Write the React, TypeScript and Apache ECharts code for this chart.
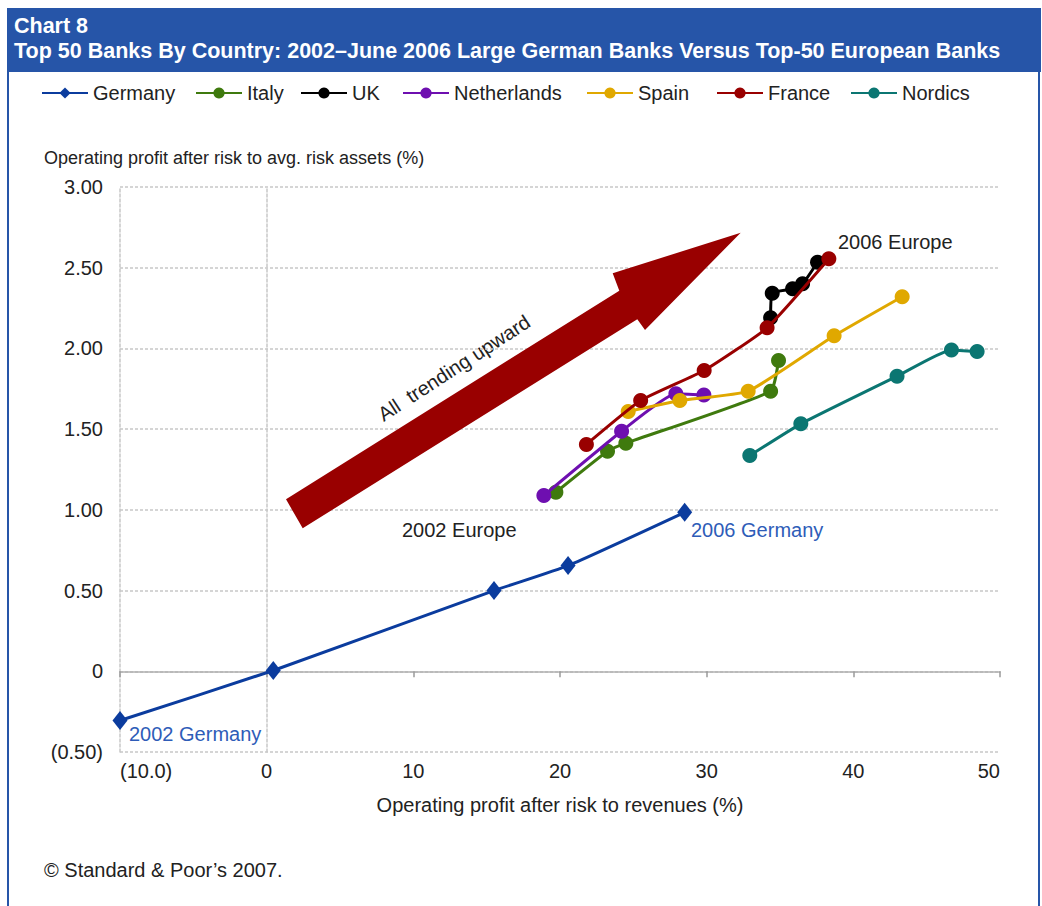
import React, { useEffect, useRef } from "react";
import * as echarts from "echarts";

const FONT = "'Liberation Sans', Arial, Helvetica, sans-serif";

const seriesNames = ["Germany", "Italy", "UK", "Netherlands", "Spain", "France", "Nordics"];
const seriesColors = ["#0b3c9e", "#3f7a0e", "#000000", "#6e0fb0", "#e0a800", "#990000", "#0b7672"];

const germanyX = [-10, 0.45, 15.5, 20.55, 28.5];
const germanyY = [-0.305, 0.005, 0.5, 0.655, 0.985];
const italyX = [19.72, 23.24, 24.49, 34.36, 34.9];
const italyY = [1.109, 1.363, 1.413, 1.735, 1.925];
const ukX = [34.36, 34.47, 35.86, 36.54, 37.56];
const ukY = [2.19, 2.342, 2.369, 2.4, 2.534];
const netherlandsX = [18.9, 24.2, 27.9, 29.81];
const netherlandsY = [1.089, 1.487, 1.719, 1.712];
const spainX = [24.65, 28.17, 32.83, 38.69, 43.33];
const spainY = [1.609, 1.677, 1.735, 2.078, 2.32];
const franceX = [21.8, 25.5, 29.83, 34.12, 38.33];
const franceY = [1.405, 1.677, 1.863, 2.128, 2.555];
const nordicsX = [32.94, 36.42, 42.98, 46.69, 48.44];
const nordicsY = [1.336, 1.533, 1.828, 1.991, 1.981];

const seriesXs = [germanyX, italyX, ukX, netherlandsX, spainX, franceX, nordicsX];
const seriesYs = [germanyY, italyY, ukY, netherlandsY, spainY, franceY, nordicsY];

const xTicks = { min: -10, max: 50, interval: 10 };
const yTicks = { min: -0.5, max: 3, interval: 0.5 };

const titleLine1 = "Chart 8";
const titleLine2 = "Top 50 Banks By Country: 2002\u2013June 2006 Large German Banks Versus Top-50 European Banks";
const yTitle = "Operating profit after risk to avg. risk assets (%)";
const xTitle = "Operating profit after risk to revenues (%)";
const footer = "\u00A9 Standard & Poor\u2019s 2007.";

const legendLefts = [41, 195, 300, 402, 586, 716, 850];

const BLUE = "#2655a8";
const GRID = "#c8c8c8";

function fmtX(v: number) {
  if (v < 0) return "(" + Math.abs(v).toFixed(1) + ")";
  return String(v);
}
function fmtY(v: number) {
  if (Math.abs(v) < 1e-9) return "0";
  if (v < 0) return "(" + Math.abs(v).toFixed(2) + ")";
  return v.toFixed(2);
}

export default function App() {
  const ref = useRef<HTMLDivElement>(null);
  useEffect(() => {
    if (!ref.current) return;
    const chart = echarts.init(ref.current, undefined, { renderer: "svg" });

    const series = seriesNames.map((name, i) => ({
      name,
      type: "line",
      xAxisIndex: 0,
      yAxisIndex: 0,
      data: seriesXs[i].map((x, j) => [x, seriesYs[i][j]]),
      symbol: i === 0 ? "diamond" : "circle",
      symbolSize: i === 0 ? [15, 19] : 15,
      smooth: 0.15,
      showSymbol: true,
      clip: false,
      lineStyle: { color: seriesColors[i], width: 3 },
      itemStyle: { color: seriesColors[i] },
      z: 3 + i,
    }));

    const legends = seriesNames.map((name, i) => ({
      data: [name],
      left: legendLefts[i],
      top: 83,
      itemWidth: 46,
      itemHeight: 14,
      padding: 0,
      textStyle: { fontSize: 20, fontFamily: FONT, color: "#222" },
      selectedMode: false,
    }));

    const arrowPts = [
      [286, 499.3],
      [619.3, 290.7],
      [612.7, 273.3],
      [740.7, 232.7],
      [645, 330],
      [637.3, 319.3],
      [302.7, 528.3],
    ];

    const option: any = {
      animation: false,
      backgroundColor: "#ffffff",
      textStyle: { fontFamily: FONT },
      title: [
        {
          text: titleLine1,
          left: 14,
          top: 15,
          padding: 0,
          textStyle: { color: "#fff", fontSize: 21.5, fontWeight: "bold", fontFamily: FONT },
        },
        {
          text: titleLine2,
          left: 14,
          top: 40,
          padding: 0,
          textStyle: { color: "#fff", fontSize: 21.5, fontWeight: "bold", fontFamily: FONT },
        },
      ],
      legend: legends,
      grid: { left: 120, top: 187, width: 880, height: 565, containLabel: false },
      xAxis: [
        {
          type: "value",
          min: xTicks.min,
          max: xTicks.max,
          interval: xTicks.interval,
          position: "bottom",
          axisLine: { show: false, onZero: false },
          axisTick: { show: false },
          splitLine: { show: false },
          axisLabel: {
            formatter: fmtX,
            fontSize: 20,
            color: "#222",
            fontFamily: FONT,
            margin: 9,
            alignMinLabel: "left",
            alignMaxLabel: "right",
          },
          name: xTitle,
          nameLocation: "middle",
          nameGap: 43,
          nameTextStyle: { fontSize: 20, color: "#222", fontFamily: FONT },
        },
        {
          type: "value",
          min: xTicks.min,
          max: xTicks.max,
          interval: xTicks.interval,
          position: "bottom",
          axisLine: { show: true, onZero: true, lineStyle: { color: "#b0b0b0", width: 1.5 } },
          axisTick: { show: true, length: 6, lineStyle: { color: "#9a9a9a", width: 1.5 } },
          axisLabel: { show: false },
          splitLine: { show: false },
        },
      ],
      yAxis: [
        {
          type: "value",
          min: yTicks.min,
          max: yTicks.max,
          interval: yTicks.interval,
          position: "left",
          axisLine: { show: true, onZero: false, lineStyle: { color: GRID, type: [3, 2], width: 1.5 } },
          axisTick: { show: false },
          splitLine: { show: true, lineStyle: { color: GRID, type: [3, 2], width: 1.5 } },
          axisLabel: { formatter: fmtY, fontSize: 20, color: "#222", fontFamily: FONT, margin: 17 },
        },
        {
          type: "value",
          min: yTicks.min,
          max: yTicks.max,
          interval: yTicks.interval,
          position: "left",
          axisLine: { show: true, onZero: true, lineStyle: { color: GRID, type: [3, 2], width: 1.5 } },
          axisTick: { show: false },
          axisLabel: { show: false },
          splitLine: { show: false },
        },
      ],
      graphic: [
        { type: "rect", z: -10, shape: { x: 7, y: 8, width: 1034, height: 64 }, style: { fill: BLUE } },
        {
          type: "rect",
          z: -10,
          shape: { x: 8, y: 9, width: 1031, height: 1000 },
          style: { fill: "none", stroke: BLUE, lineWidth: 2 },
        },
        {
          type: "polygon",
          z: 1,
          shape: { points: arrowPts },
          style: { fill: "#990000" },
        },
        {
          type: "text",
          x: 454,
          y: 368,
          rotation: (33 * Math.PI) / 180,
          style: {
            text: "All  trending upward",
            fill: "#222",
            font: `20px ${FONT}`,
            textAlign: "center",
            textVerticalAlign: "middle",
          },
        },
        {
          type: "text",
          x: 44,
          y: 158,
          style: { text: yTitle, fill: "#222", font: `18px ${FONT}`, textAlign: "left", textVerticalAlign: "middle" },
        },
        {
          type: "text",
          x: 838,
          y: 242,
          style: { text: "2006 Europe", fill: "#222", font: `20px ${FONT}`, textAlign: "left", textVerticalAlign: "middle" },
        },
        {
          type: "text",
          x: 402,
          y: 530,
          style: { text: "2002 Europe", fill: "#222", font: `20px ${FONT}`, textAlign: "left", textVerticalAlign: "middle" },
        },
        {
          type: "text",
          x: 691,
          y: 530,
          style: { text: "2006 Germany", fill: "#2e5cb8", font: `20px ${FONT}`, textAlign: "left", textVerticalAlign: "middle" },
        },
        {
          type: "text",
          x: 129,
          y: 734,
          style: { text: "2002 Germany", fill: "#2e5cb8", font: `20px ${FONT}`, textAlign: "left", textVerticalAlign: "middle" },
        },
        {
          type: "text",
          x: 44,
          y: 870,
          style: { text: footer, fill: "#222", font: `20px ${FONT}`, textAlign: "left", textVerticalAlign: "middle" },
        },
      ],
      series,
    };

    chart.setOption(option);
    return () => chart.dispose();
  }, []);

  return (
    <div
      ref={ref}
      style={{ position: "absolute", left: 0, top: 0, width: 1042, height: 906, background: "#fff" }}
    />
  );
}
